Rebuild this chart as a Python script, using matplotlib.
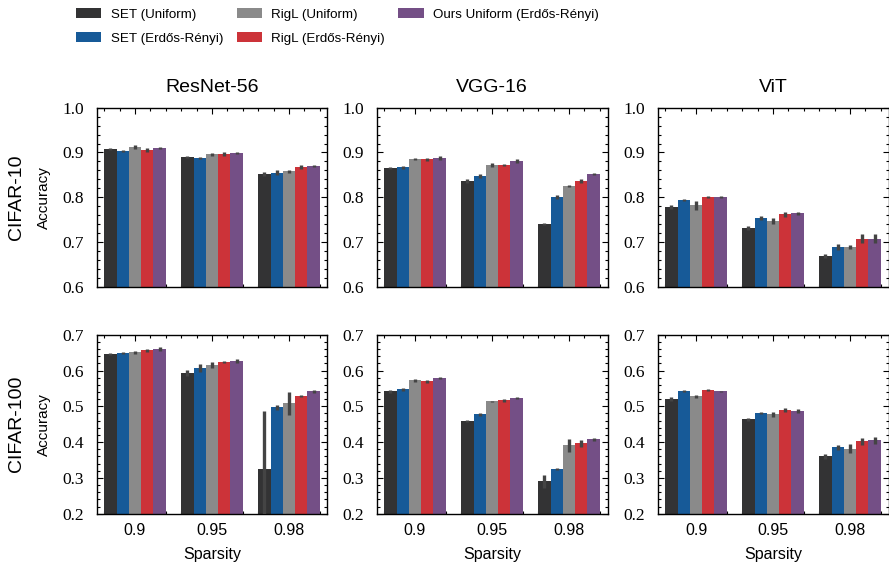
import numpy as np
import matplotlib
matplotlib.use('Agg')
import matplotlib.pyplot as plt
from matplotlib.ticker import MultipleLocator
from matplotlib.patches import Patch

methods = ['SET (Uniform)', 'SET (Erdős-Rényi)', 'RigL (Uniform)',
           'RigL (Erdős-Rényi)', 'Ours Uniform (Erdős-Rényi)']
colors = ['#333334', '#175a98', '#8a8a8a', '#cc3339', '#744f86']
sparsity = ['0.9', '0.95', '0.98']
models = ['ResNet-56', 'VGG-16', 'ViT']
datasets = ['CIFAR-10', 'CIFAR-100']

# rows = methods, cols = sparsity
c10_resnet = [[0.908, 0.890, 0.852], [0.903, 0.888, 0.855], [0.912, 0.896, 0.858],
              [0.905, 0.896, 0.867], [0.910, 0.899, 0.870]]
c10_resnet_err = [[0.002, 0.003, 0.004], [0.003, 0.002, 0.005], [0.004, 0.003, 0.003],
                  [0.005, 0.004, 0.004], [0.003, 0.003, 0.002]]
c10_vgg = [[0.865, 0.836, 0.740], [0.867, 0.847, 0.800], [0.885, 0.872, 0.825],
           [0.885, 0.872, 0.836], [0.888, 0.881, 0.852]]
c10_vgg_err = [[0.002, 0.004, 0.002], [0.003, 0.004, 0.004], [0.002, 0.005, 0.003],
               [0.003, 0.003, 0.004], [0.005, 0.004, 0.003]]
c10_vit = [[0.778, 0.731, 0.669], [0.794, 0.753, 0.689], [0.782, 0.747, 0.689],
           [0.800, 0.762, 0.707], [0.800, 0.764, 0.707]]
c10_vit_err = [[0.005, 0.004, 0.005], [0.003, 0.005, 0.006], [0.010, 0.006, 0.004],
               [0.002, 0.006, 0.010], [0.002, 0.004, 0.010]]
c100_resnet = [[0.646, 0.593, 0.324], [0.649, 0.607, 0.498], [0.651, 0.615, 0.509],
               [0.656, 0.624, 0.528], [0.660, 0.626, 0.542]]
c100_resnet_err = [[0.003, 0.008, 0.163], [0.003, 0.010, 0.007], [0.004, 0.008, 0.032],
                   [0.003, 0.003, 0.003], [0.006, 0.006, 0.004]]
c100_vgg = [[0.542, 0.458, 0.290], [0.548, 0.478, 0.324], [0.573, 0.514, 0.391],
            [0.570, 0.517, 0.397], [0.579, 0.523, 0.408]]
c100_vgg_err = [[0.004, 0.003, 0.018], [0.004, 0.004, 0.003], [0.004, 0.002, 0.018],
                [0.004, 0.004, 0.010], [0.003, 0.002, 0.004]]
c100_vit = [[0.520, 0.464, 0.360], [0.542, 0.481, 0.385], [0.528, 0.478, 0.382],
            [0.545, 0.489, 0.402], [0.542, 0.486, 0.405]]
c100_vit_err = [[0.005, 0.004, 0.008], [0.003, 0.003, 0.008], [0.004, 0.007, 0.012],
                [0.002, 0.006, 0.010], [0.002, 0.006, 0.010]]

values = [[c10_resnet, c10_vgg, c10_vit], [c100_resnet, c100_vgg, c100_vit]]
errors = [[c10_resnet_err, c10_vgg_err, c10_vit_err],
          [c100_resnet_err, c100_vgg_err, c100_vit_err]]
ylims = [(0.6, 1.0), (0.2, 0.7)]

sans = ['Liberation Sans', 'DejaVu Sans']
serif = ['Liberation Serif', 'DejaVu Serif']

W, H = 889, 565
fig = plt.figure(figsize=(W / 100, H / 100), dpi=100)

col_left = [96.5, 376.5, 657.5]
ax_w = 231
row_top = [107.7, 334.7]
ax_h = 179

n = len(methods)
bw = 0.8 / n
x = np.arange(len(sparsity))

for r in range(2):
    for c in range(3):
        ax = fig.add_axes([col_left[c] / W, 1 - (row_top[r] + ax_h) / H, ax_w / W, ax_h / H])
        vals = np.array(values[r][c])
        errs = np.array(errors[r][c])
        for i in range(n):
            pos = x - 0.4 + bw * (i + 0.5)
            ax.bar(pos, vals[i], width=bw, color=colors[i], zorder=2)
            ax.errorbar(pos, vals[i], yerr=errs[i], fmt='none', ecolor='#444444',
                        elinewidth=2.4, capsize=0, zorder=3)
        ax.set_xlim(-0.5, 2.5)
        ax.set_ylim(*ylims[r])
        ax.yaxis.set_major_locator(MultipleLocator(0.1))
        ax.yaxis.set_minor_locator(MultipleLocator(0.02))
        ax.xaxis.set_minor_locator(MultipleLocator(0.2))
        ax.set_xticks(x)
        if r == 1:
            ax.set_xticklabels(sparsity, family=sans, fontsize=11.5)
            ax.set_xlabel('Sparsity', family=sans, fontsize=11.5, labelpad=6)
        else:
            ax.set_xticklabels([])
            ax.set_title(models[c], family=sans, fontsize=14, pad=11)
        ax.tick_params(which='both', direction='in', top=True, right=True, width=0.8)
        ax.tick_params(which='major', length=4)
        ax.tick_params(which='minor', length=2.2)
        ax.tick_params(axis='y', pad=9)
        ax.tick_params(axis='x', pad=7)
        for lab in ax.get_yticklabels():
            lab.set_family(serif)
            lab.set_fontsize(12.5)
        for s in ax.spines.values():
            s.set_linewidth(1.0)

    yc = 1 - (row_top[r] + ax_h / 2) / H
    fig.text(17 / W, yc, datasets[r], rotation=90, ha='center', va='center',
             family=sans, fontsize=14)
    fig.text(44 / W, yc, 'Accuracy', rotation=90, ha='center', va='center',
             family=sans, fontsize=11)

handles = [Patch(facecolor=colors[i], label=methods[i]) for i in range(n)]
fig.legend(handles=handles, loc='upper left', bbox_to_anchor=(76 / W, 1 - 8 / H), ncol=3,
           frameon=False, prop={'family': sans, 'size': 9.6},
           borderpad=0, borderaxespad=0,
           handlelength=1.9, handleheight=0.8, handletextpad=0.7,
           columnspacing=1.0, labelspacing=0.85)

fig.savefig('out.png', dpi=100)
